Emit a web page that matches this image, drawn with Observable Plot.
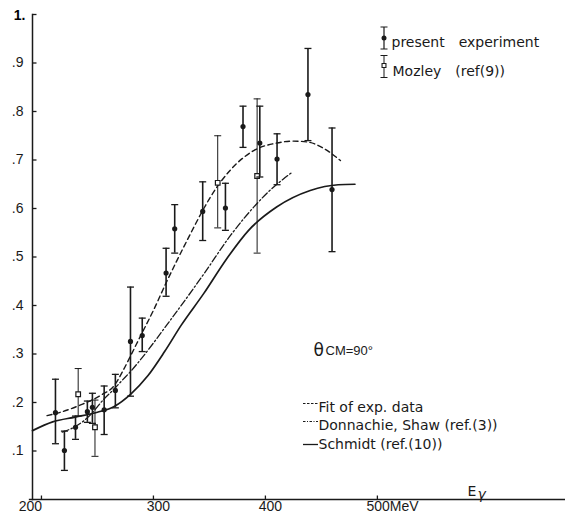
<!DOCTYPE html>
<html>
<head>
<meta charset="utf-8">
<script src="https://cdn.jsdelivr.net/npm/d3@7"></script>
<script src="https://cdn.jsdelivr.net/npm/@observablehq/plot@0.6"></script>
<style>
  html, body { margin: 0; padding: 0; background: #fff; }
  #chart { width: 565px; height: 518px; }
</style>
</head>
<body>
<div id="chart"></div>
<script>
// ---- data ----
// present experiment: energy (MeV), value, lower and upper error
const presentE  = [212.5, 220.5, 230.4, 241, 245.5, 256, 266, 279.5, 290, 311.3, 319, 344, 364.3, 380, 395, 410.4, 438, 459.5];
const presentV  = [0.179, 0.101, 0.149, 0.181, 0.190, 0.185, 0.225, 0.326, 0.338, 0.467, 0.558, 0.594, 0.601, 0.769, 0.735, 0.702, 0.835, 0.639];
const presentLo = [0.115, 0.060, 0.124, 0.159, 0.157, 0.134, 0.189, 0.213, 0.305, 0.419, 0.508, 0.534, 0.555, 0.726, 0.665, 0.649, 0.740, 0.511];
const presentHi = [0.248, 0.141, 0.172, 0.203, 0.219, 0.234, 0.258, 0.438, 0.374, 0.518, 0.608, 0.655, 0.652, 0.811, 0.811, 0.754, 0.930, 0.766];

// Mozley (ref(9))
const mozleyE  = [232.8, 247.8, 357.4, 392.6];
const mozleyV  = [0.217, 0.149, 0.653, 0.667];
const mozleyLo = [0.172, 0.089, 0.560, 0.508];
const mozleyHi = [0.270, 0.205, 0.750, 0.826];

// curves
const fitE = [205, 217, 235, 253, 265, 272, 280, 288, 300, 312, 330, 345, 351, 369, 390, 410, 425, 438, 452, 467];
const fitV = [0.173, 0.180, 0.195, 0.215, 0.235, 0.262, 0.298, 0.335, 0.390, 0.450, 0.534, 0.600, 0.624, 0.680, 0.720, 0.735, 0.739, 0.737, 0.724, 0.699];

const dsE = [218.5, 230, 244, 255, 265, 271, 280, 288, 312, 345, 369, 381, 403, 424];
const dsV = [0.139, 0.150, 0.175, 0.205, 0.228, 0.243, 0.265, 0.287, 0.360, 0.465, 0.545, 0.580, 0.635, 0.675];

const schE = [192, 210, 230, 250, 265, 280, 295, 310, 325, 345, 365, 385, 410, 440, 465, 480];
const schV = [0.142, 0.160, 0.170, 0.180, 0.192, 0.218, 0.255, 0.305, 0.360, 0.425, 0.495, 0.555, 0.603, 0.637, 0.649, 0.650];

// axes
const xDomain = [192, 668];
const yDomain = [0, 1];
const yTickValues = [0.1, 0.2, 0.3, 0.4, 0.5, 0.6, 0.7, 0.8, 0.9];
const yTickLabels = [".1", ".2", ".3", ".4", ".5", ".6", ".7", ".8", ".9"];
const yTopValue = [1];
const yTopLabel = "1.";
const xTickValues = [200, 300, 400, 500];
const xTickLabels = ["200", "300", "400", "500MeV"];

// legend texts
const legendPoints = ["present\u2003experiment", "Mozley\u2003(ref(9))"];
const legendLines = ["Fit of exp. data", "Donnachie, Shaw (ref.(3))", "Schmidt (ref.(10))"];
const angleSymbol = "\u03B8";
const angleLabel = "CM=90\u00B0";
const xAxisLabel = ["E", "\u03B3"];

// ---- build tables ----
const present = presentE.map((E, i) => ({E, v: presentV[i], lo: presentLo[i], hi: presentHi[i]}));
const mozley = mozleyE.map((E, i) => ({E, v: mozleyV[i], lo: mozleyLo[i], hi: mozleyHi[i]}));
const fit = fitE.map((E, i) => ({E, v: fitV[i]}));
const ds = dsE.map((E, i) => ({E, v: dsV[i]}));
const sch = schE.map((E, i) => ({E, v: schV[i]}));

// ---- custom symbols ----
const hcap = {draw(ctx, size) { const r = Math.sqrt(size / Math.PI); ctx.moveTo(-r, 0); ctx.lineTo(r, 0); }};
const tickRight = {draw(ctx, size) { const r = Math.sqrt(size / Math.PI); ctx.moveTo(0, 0); ctx.lineTo(r, 0); }};
const tickUp = {draw(ctx, size) { const r = Math.sqrt(size / Math.PI); ctx.moveTo(0, 0); ctx.lineTo(0, -r); }};
const hline = {draw(ctx, size) { const r = Math.sqrt(size / Math.PI); ctx.moveTo(-r, 0); ctx.lineTo(r, 0); }};
const ibeam = {draw(ctx, size) {
  const h = 11, w = 3.5;
  ctx.moveTo(0, -h); ctx.lineTo(0, h);
  ctx.moveTo(-w, -h); ctx.lineTo(w, -h);
  ctx.moveTo(-w, h); ctx.lineTo(w, h);
}};

const ink = "#1a1a1a";
const font = "DejaVu Sans, Liberation Sans, sans-serif";
const tickFont = "Liberation Sans, Arial, sans-serif";

const chart = Plot.plot({
  width: 565,
  height: 518,
  marginLeft: 32,
  marginRight: 0,
  marginTop: 14,
  marginBottom: 19,
  x: {domain: xDomain, axis: null},
  y: {domain: yDomain, axis: null},
  style: {fontFamily: font, background: "#fff", color: ink, overflow: "visible"},
  marks: [
    // axes lines
    Plot.frame({anchor: "left", stroke: ink, strokeWidth: 1.5}),
    Plot.frame({anchor: "bottom", stroke: ink, strokeWidth: 1.3, insetLeft: -3}),
    // y ticks and labels
    Plot.dot(yTickValues, {y: d => d, frameAnchor: "left", symbol: tickRight, r: 4, stroke: ink, fill: "none", strokeWidth: 1.3}),
    Plot.text(yTickValues, {y: d => d, text: (d, i) => yTickLabels[i], frameAnchor: "left", textAnchor: "end", dx: -9, fontSize: 14, fontFamily: tickFont, fill: ink}),
    Plot.dot(yTopValue, {y: d => d, frameAnchor: "left", symbol: tickRight, r: 4, stroke: ink, fill: "none", strokeWidth: 1.3}),
    Plot.text(yTopValue, {y: d => d, text: () => yTopLabel, frameAnchor: "left", textAnchor: "end", dx: -7, dy: 1, fontSize: 14, fontWeight: "bold", fontFamily: tickFont, fill: "#000"}),
    // x ticks and labels
    Plot.dot(xTickValues, {x: d => d, frameAnchor: "bottom", symbol: tickUp, r: 4, stroke: ink, fill: "none", strokeWidth: 1.3}),
    Plot.text(xTickValues.slice(0, 1), {x: d => d, text: (d, i) => xTickLabels[i], frameAnchor: "bottom", dy: 11, dx: -11, fontSize: 14, fontFamily: tickFont, fill: ink}),
    Plot.text(xTickValues.slice(1, 3), {x: d => d, text: (d, i) => xTickLabels[i + 1], frameAnchor: "bottom", dy: 11, dx: 5, fontSize: 14, fontFamily: tickFont, fill: ink}),
    Plot.text(xTickValues.slice(3), {x: d => d, text: (d, i) => xTickLabels[i + 3], frameAnchor: "bottom", dy: 11, dx: -11, textAnchor: "start", fontSize: 14, fontFamily: tickFont, fill: ink}),
    Plot.text(xAxisLabel.slice(0, 1), {frameAnchor: "top-left", dx: 435, dy: 472, textAnchor: "start", fontSize: 14, fill: ink}),
    Plot.text(xAxisLabel.slice(1), {frameAnchor: "top-left", dx: 445, dy: 475, textAnchor: "start", fontSize: 14, fontStyle: "italic", fill: ink}),

    // curves
    Plot.line(sch, {x: "E", y: "v", curve: "monotone-x", stroke: ink, strokeWidth: 1.7}),
    Plot.line(ds, {x: "E", y: "v", curve: "monotone-x", stroke: ink, strokeWidth: 1.3, strokeDasharray: "7,2.5,1.5,2.5"}),
    Plot.line(fit, {x: "E", y: "v", curve: "monotone-x", stroke: ink, strokeWidth: 1.4, strokeDasharray: "5,3.5"}),

    // Mozley error bars
    Plot.ruleX(mozley, {x: "E", y1: "lo", y2: "hi", stroke: ink, strokeWidth: 1}),
    Plot.dot(mozley, {x: "E", y: "lo", symbol: hcap, r: 3.5, stroke: ink, fill: "none", strokeWidth: 1}),
    Plot.dot(mozley, {x: "E", y: "hi", symbol: hcap, r: 3.5, stroke: ink, fill: "none", strokeWidth: 1}),
    Plot.dot(mozley, {x: "E", y: "v", symbol: "square", r: 2.6, fill: "#fff", stroke: ink, strokeWidth: 1.2}),

    // present experiment error bars
    Plot.ruleX(present, {x: "E", y1: "lo", y2: "hi", stroke: ink, strokeWidth: 1.6}),
    Plot.dot(present, {x: "E", y: "lo", symbol: hcap, r: 3.5, stroke: ink, fill: "none", strokeWidth: 1.3}),
    Plot.dot(present, {x: "E", y: "hi", symbol: hcap, r: 3.5, stroke: ink, fill: "none", strokeWidth: 1.3}),
    Plot.dot(present, {x: "E", y: "v", r: 2.6, fill: ink, stroke: "none"}),

    // legend (points)
    Plot.dot([0], {frameAnchor: "top-left", dx: 351.5, dy: 23.5, symbol: ibeam, r: 4, stroke: ink, fill: "none", strokeWidth: 1.2}),
    Plot.dot([0], {frameAnchor: "top-left", dx: 351.5, dy: 23.5, r: 2.5, fill: ink, stroke: "none"}),
    Plot.dot([0], {frameAnchor: "top-left", dx: 351.5, dy: 52, symbol: ibeam, r: 4, stroke: ink, fill: "none", strokeWidth: 1}),
    Plot.dot([0], {frameAnchor: "top-left", dx: 351.5, dy: 51, symbol: "square", r: 2.2, fill: "#fff", stroke: ink, strokeWidth: 1.1}),
    Plot.text(legendPoints.slice(0, 1), {frameAnchor: "top-left", dx: 359, dy: 23, textAnchor: "start", fontSize: 14, fill: ink}),
    Plot.text(legendPoints.slice(1), {frameAnchor: "top-left", dx: 360, dy: 52, textAnchor: "start", fontSize: 14, fill: ink}),

    // angle label
    Plot.text([angleSymbol], {frameAnchor: "top-left", dx: 281, dy: 329, textAnchor: "start", fontSize: 17, fill: ink}),
    Plot.text([angleLabel], {frameAnchor: "top-left", dx: 293, dy: 331, textAnchor: "start", fontSize: 13, fontFamily: tickFont, fill: ink}),

    // legend (lines)
    Plot.dot([0], {frameAnchor: "top-left", dx: 278, dy: 389, symbol: hline, r: 7.5, stroke: ink, fill: "none", strokeWidth: 1.2, strokeDasharray: "2.5,1.5"}),
    Plot.dot([0], {frameAnchor: "top-left", dx: 278, dy: 407, symbol: hline, r: 7.5, stroke: ink, fill: "none", strokeWidth: 1.1, strokeDasharray: "2.5,1.5,1,1.5"}),
    Plot.dot([0], {frameAnchor: "top-left", dx: 278, dy: 430, symbol: hline, r: 7.5, stroke: ink, fill: "none", strokeWidth: 1.3}),
    Plot.text(legendLines.slice(0, 1), {frameAnchor: "top-left", dx: 286, dy: 388, textAnchor: "start", fontSize: 14, letterSpacing: 0.1, fill: ink}),
    Plot.text(legendLines.slice(1, 2), {frameAnchor: "top-left", dx: 286, dy: 406, textAnchor: "start", fontSize: 14, letterSpacing: 0.2, fill: ink}),
    Plot.text(legendLines.slice(2), {frameAnchor: "top-left", dx: 286, dy: 425, textAnchor: "start", fontSize: 14, letterSpacing: 1.1, fill: ink})
  ]
});

document.getElementById("chart").appendChild(chart);
</script>
</body>
</html>
